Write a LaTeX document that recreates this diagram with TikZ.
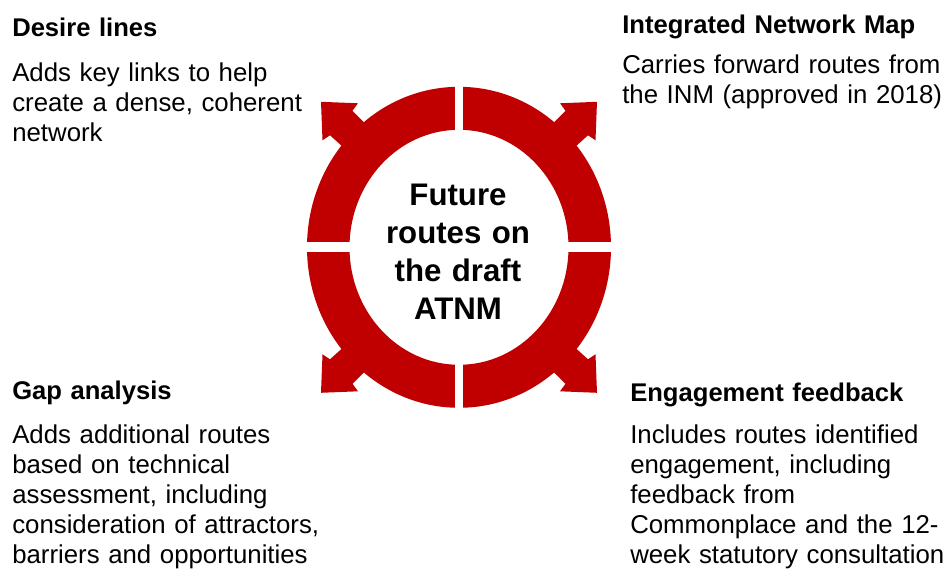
\documentclass[tikz,border=0pt]{standalone}
\usepackage{fontspec}
\setmainfont{Liberation Sans}
\definecolor{ringred}{RGB}{192,0,0}
\begin{document}
\begin{tikzpicture}[x=0.75pt,y=-0.75pt,
  heading/.style={anchor=base west, inner sep=0pt, text width=260pt, align=left,
    font={\fontsize{19.2pt}{22.5pt}\selectfont\bfseries}},
  body/.style={anchor=base west, inner sep=0pt, text width=260pt, align=left,
    font={\fontsize{19.35pt}{22.5pt}\selectfont}},
  hub/.style={anchor=base, inner sep=0pt, text width=170pt, align=center,
    font={\fontsize{23.4pt}{28.4pt}\selectfont\bfseries}},
  ringfill/.style={fill=ringred},
  ringcut/.style={fill=white}
]
% page area
\path[use as bounding box, fill=white] (0,0) rectangle (946,573);
\coordinate (c) at (459,247.3);

% the ring
\fill[ringfill, even odd rule]
  (c) ellipse [x radius=152, y radius=160.5]
  (c) ellipse [x radius=109.5, y radius=117.5];

% four outward arrows on the diagonals
\foreach \sx/\sy in {1/1,1/-1,-1/1,-1/-1}
  \fill[ringfill, shift={(c)}, xscale=\sx, yscale=\sy]
    (138,145.5) -- (136.5,107) -- (129,112) -- (108.5,93.5)
    -- (85.5,115.5) -- (106.5,136.5) -- (101,144) -- cycle;

% splits between the four quarters
\fill[ringcut] (455,75) rectangle (463,420);
\fill[ringcut] (295,242) rectangle (625,252);

% centre label
\node[hub] (hub) at (458,205.7) {Future\\routes on\\the draft\\ATNM};

% corner texts
\node[heading] (desireT) at (12,36.7) {Desire lines};
\node[body] (desireB) at (12,81.7) {Adds key links to help\\create a dense, coherent\\network};

\node[heading] (inmT) at (622,33.3) {Integrated Network Map};
\node[body] (inmB) at (622,74) {Carries forward routes from\\the INM (approved in 2018)};

\node[heading] (gapT) at (12,399.3) {Gap analysis};
\node[body] (gapB) at (12,443.3) {Adds additional routes\\based on technical\\assessment, including\\consideration of attractors,\\barriers and opportunities};

\node[heading] (engT) at (630,401.7) {Engagement feedback};
\node[body] (engB) at (630,444) {Includes routes identified\\engagement, including\\feedback from\\Commonplace and the 12-\\week statutory consultation};
\end{tikzpicture}
\end{document}
